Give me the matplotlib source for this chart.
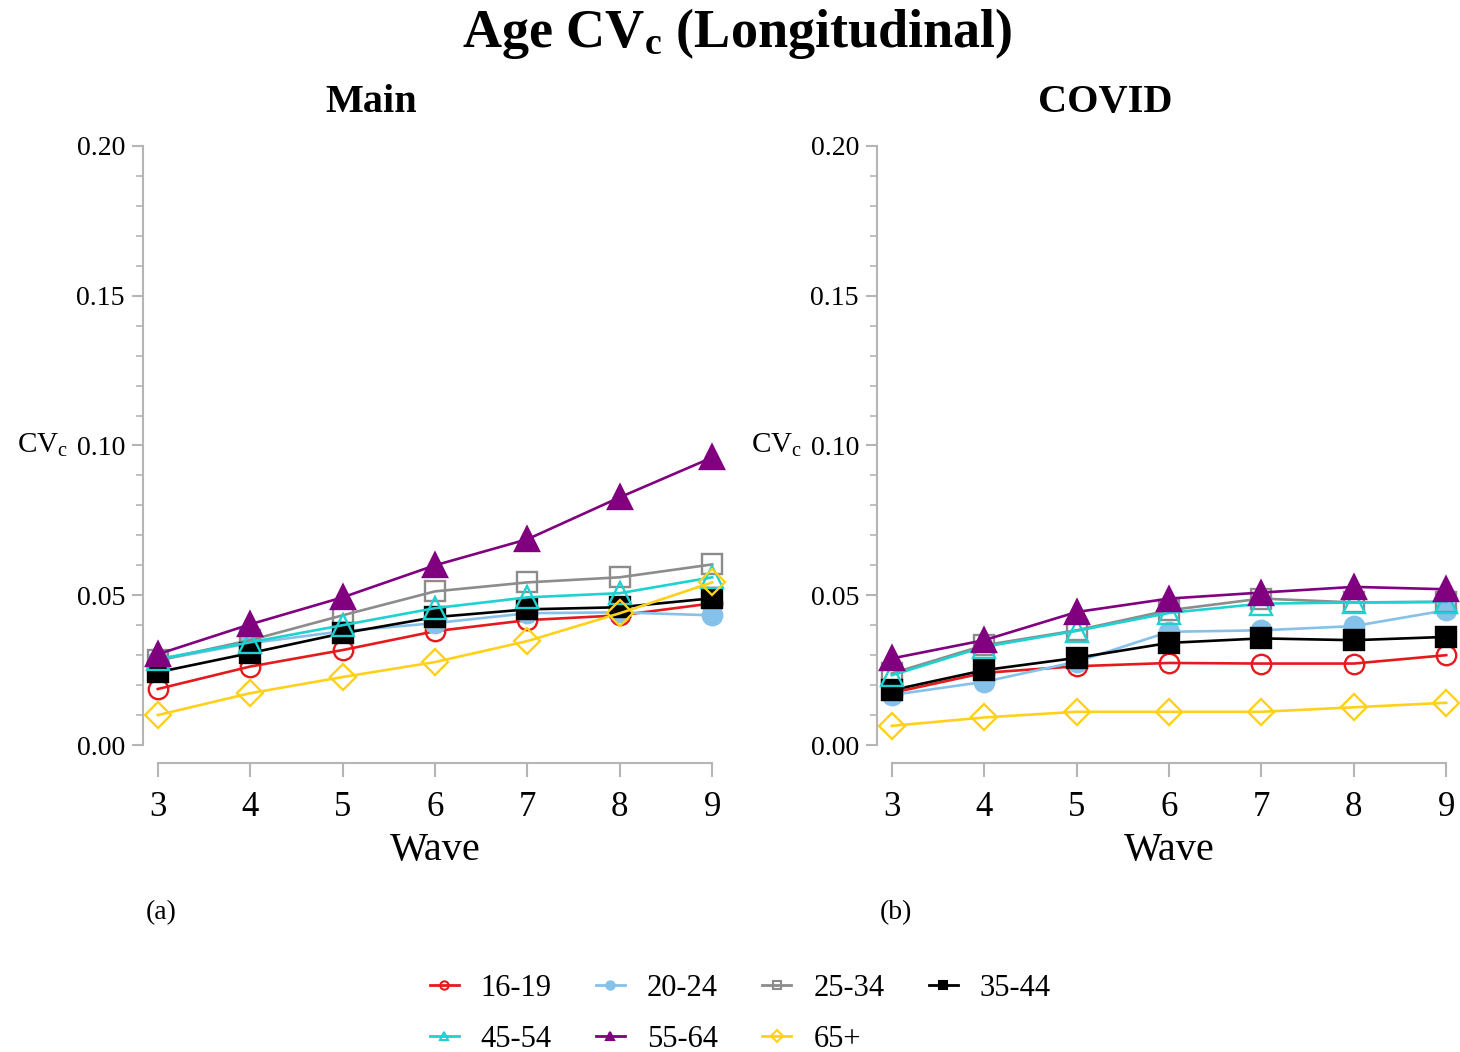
import matplotlib
matplotlib.use("Agg")
import matplotlib.pyplot as plt
from matplotlib.lines import Line2D
import numpy as np

plt.rcParams['font.family'] = ['Liberation Serif', 'DejaVu Serif']
plt.rcParams['mathtext.fontset'] = 'custom'
plt.rcParams['mathtext.rm'] = 'Liberation Serif'
plt.rcParams['mathtext.it'] = 'Liberation Serif:italic'
plt.rcParams['mathtext.bf'] = 'Liberation Serif:bold'

waves = [3, 4, 5, 6, 7, 8, 9]
groups = ["16-19", "20-24", "25-34", "35-44", "45-54", "55-64", "65+"]

main_16_19 = [0.0187, 0.0262, 0.0317, 0.0380, 0.0417, 0.0433, 0.0473]
main_20_24 = [0.0283, 0.0340, 0.0380, 0.0407, 0.0440, 0.0443, 0.0433]
main_25_34 = [0.0283, 0.0350, 0.0433, 0.0513, 0.0543, 0.0560, 0.0603]
main_35_44 = [0.0243, 0.0307, 0.0373, 0.0427, 0.0453, 0.0460, 0.0490]
main_45_54 = [0.0287, 0.0343, 0.0400, 0.0457, 0.0493, 0.0507, 0.0560]
main_55_64 = [0.0303, 0.0403, 0.0493, 0.0600, 0.0687, 0.0827, 0.0960]
main_65p = [0.0100, 0.0173, 0.0227, 0.0277, 0.0347, 0.0440, 0.0543]

covid_16_19 = [0.0174, 0.0241, 0.0263, 0.0274, 0.0272, 0.0272, 0.0300]
covid_20_24 = [0.0167, 0.0211, 0.0278, 0.0378, 0.0383, 0.0397, 0.0450]
covid_25_34 = [0.0239, 0.0333, 0.0383, 0.0450, 0.0489, 0.0476, 0.0478]
covid_35_44 = [0.0183, 0.0250, 0.0291, 0.0341, 0.0356, 0.0350, 0.0361]
covid_45_54 = [0.0233, 0.0328, 0.0381, 0.0441, 0.0472, 0.0476, 0.0478]
covid_55_64 = [0.0289, 0.0350, 0.0444, 0.0489, 0.0509, 0.0528, 0.0520]
covid_65p = [0.0064, 0.0092, 0.0111, 0.0111, 0.0111, 0.0126, 0.0141]

main_series = [main_16_19, main_20_24, main_25_34, main_35_44, main_45_54, main_55_64, main_65p]
covid_series = [covid_16_19, covid_20_24, covid_25_34, covid_35_44, covid_45_54, covid_55_64, covid_65p]

colors = ["#e41a1c", "#85c1e9", "#8c8c8c", "#000000", "#1fd1d1", "#800080", "#ffd11a"]
markers = ["o", "o", "s", "s", "^", "^", "D"]
filled = [False, True, False, True, False, True, False]
msizes = [14, 14, 14, 14, 16, 17, 13]

fig = plt.figure(figsize=(14.6, 10.52), dpi=100)
W, H = 1460, 1052

def make_ax(left_px):
    return fig.add_axes([left_px / W, (H - 763) / H, 584 / W, (763 - 128) / H])

spine_col = "#b5b5b5"
for ax_left, series, title, lab in [(143, main_series, "Main", "(a)"), (877, covid_series, "COVID", "(b)")]:
    ax = make_ax(ax_left)
    for s, c, m, f, ms in zip(series, colors, markers, filled, msizes):
        ax.plot(waves, s, color=c, lw=1.9, marker=m, ms=ms,
                markerfacecolor=c if f else "none", markeredgecolor=c,
                markeredgewidth=1.7, clip_on=False)
    ax.set_xlim(2.84, 9.16)
    ax.set_ylim(-0.006, 0.206)
    for sp in ["top", "right"]:
        ax.spines[sp].set_visible(False)
    ax.spines["left"].set_bounds(0, 0.2)
    ax.spines["bottom"].set_bounds(3, 9)
    for sp in ["left", "bottom"]:
        ax.spines[sp].set_color(spine_col)
        ax.spines[sp].set_linewidth(1.5)
    ax.set_xticks(waves)
    ax.set_yticks([0, 0.05, 0.10, 0.15, 0.20])
    ax.set_yticklabels(["0.00", "0.05", "0.10", "0.15", "0.20"])
    ax.set_yticks(np.arange(0, 0.2001, 0.01), minor=True)
    ax.tick_params(axis="y", which="major", length=8, width=1.5, color=spine_col, labelsize=20, pad=5)
    ax.tick_params(axis="y", which="minor", length=5, width=1.2, color=spine_col)
    ax.tick_params(axis="x", which="major", length=10, width=1.5, color=spine_col, labelsize=25, pad=10)
    ax.set_xlabel("Wave", fontsize=29, labelpad=6)
    ax.text(0.39, 1.04, title, transform=ax.transAxes, fontsize=29,
            fontweight="bold", ha="center", va="center")
    ax.text(-0.215, 0.1, r"CV$_\mathrm{c}$", transform=ax.get_yaxis_transform(),
            fontsize=21, ha="left", va="center")
    ax.text(0.005, -0.235, lab, transform=ax.transAxes, fontsize=20, ha="left", va="center")

fig.text(0.505, 0.968, r"Age CV$_\mathbf{c}$ (Longitudinal)", fontsize=39,
         fontweight="bold", ha="center", va="center")

handles = []
for g, c, m, f in zip(groups, colors, markers, filled):
    handles.append(Line2D([0], [0], color=c, lw=2, marker=m, ms=6,
                          markerfacecolor=c if f else "none", markeredgecolor=c,
                          markeredgewidth=1.5, label=g))
order = [0, 4, 1, 5, 2, 6, 3]
fig.legend(handles=[handles[i] for i in order], loc="center", bbox_to_anchor=(0.507, 0.036), ncol=4,
           frameon=False, fontsize=22, handlelength=0.95, columnspacing=1.45,
           handletextpad=0.72, labelspacing=0.72)

fig.savefig("out.png", dpi=100, facecolor="white")
